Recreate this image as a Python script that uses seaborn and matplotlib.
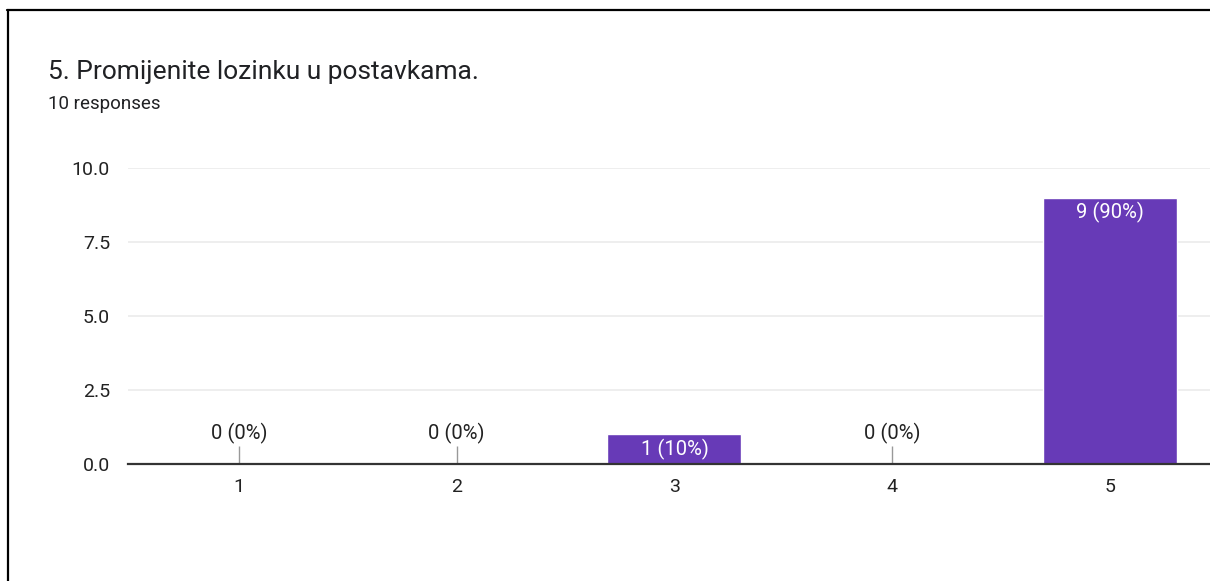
import matplotlib
matplotlib.use("Agg")

import matplotlib.pyplot as plt
import matplotlib.lines as mlines
import seaborn as sns
import pandas as pd

# data
categories = ["1", "2", "3", "4", "5"]
counts = [0, 0, 1, 0, 9]
total = 10
title = "5. Promijenite lozinku u postavkama."
subtitle = "10 responses"
yticks = [0.0, 2.5, 5.0, 7.5, 10.0]

PURPLE = "#673ab7"
TEXT = "#202124"

sns.set_theme(style="white")
plt.rcParams["font.family"] = ["Roboto", "DejaVu Sans"]

df = pd.DataFrame({"answer": categories, "count": counts})

fig = plt.figure(figsize=(12.10, 5.81), dpi=100)
ax = fig.add_axes([128 / 1210, (581 - 464) / 581, 1082 / 1210, 296 / 581])

sns.barplot(data=df, x="answer", y="count", color=PURPLE, saturation=1,
            width=0.616, ax=ax, zorder=3)

ax.set_xlim(-0.51, 4.46)
ax.set_ylim(0, 10)
ax.set_yticks(yticks)
ax.set_yticklabels([f"{t:.1f}" for t in yticks])
ax.yaxis.grid(True, color="#ebebeb", linewidth=1.2, zorder=0)
ax.set_xlabel("")
ax.set_ylabel("")
for s in ["top", "right", "left"]:
    ax.spines[s].set_visible(False)
ax.spines["bottom"].set_color("#333333")
ax.spines["bottom"].set_linewidth(1.6)
ax.spines["bottom"].set_zorder(4)
ax.tick_params(axis="y", length=0, pad=13, labelsize=14, labelcolor="#222222")
ax.tick_params(axis="x", length=0, pad=10, labelsize=14, labelcolor="#222222")

for i, c in enumerate(counts):
    label = f"{c} ({c / total:.0%})"
    if c == 0:
        ax.vlines(i, 0, 0.6, color="#999999", linewidth=1, zorder=3)
        ax.annotate(label, (i, 0.6), xytext=(0, 1.5), textcoords="offset points",
                    ha="center", va="bottom", fontsize=14.5, color="#222222")
    else:
        ax.annotate(label, (i, c), xytext=(0, -3), textcoords="offset points",
                    ha="center", va="top", fontsize=14.5, color="white", zorder=5)

fig.text(48 / 1210, 1 - 72 / 581, title, fontsize=19, color=TEXT,
         ha="left", va="center")
fig.text(48 / 1210, 1 - 104 / 581, subtitle, fontsize=13.5, color=TEXT,
         ha="left", va="center")

# frame of the screenshot
fig.add_artist(mlines.Line2D([7 / 1210, 1], [1 - 10 / 581, 1 - 10 / 581],
                             color="black", linewidth=1.6))
fig.add_artist(mlines.Line2D([8 / 1210, 8 / 1210], [0, 1 - 10 / 581],
                             color="black", linewidth=1.6))

fig.savefig("out.png", dpi=100)
